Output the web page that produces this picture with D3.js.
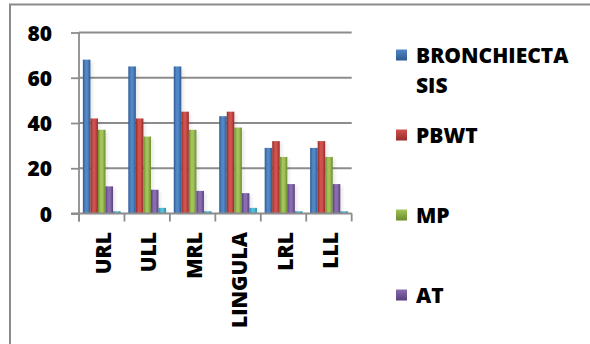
<!DOCTYPE html>
<html>
<head>
<meta charset="utf-8">
<script src="https://cdn.jsdelivr.net/npm/d3@7/dist/d3.min.js"></script>
<style>
  html, body { margin: 0; padding: 0; background: #fff; }
  svg { display: block; }
  text { font-family: "Open Sans", "DejaVu Sans", sans-serif; font-weight: 800; fill: #000; }
</style>
</head>
<body>
<svg id="chart" width="590" height="344"></svg>
<script>
// Lung lobes on the x axis
const categories = ["URL", "ULL", "MRL", "LINGULA", "LRL", "LLL"];

// Findings per lobe
const bronchiectasis = [68, 65, 65, 43, 29, 29];
const pbwt           = [42, 42, 45, 45, 32, 32];
const mp             = [37, 34, 37, 38, 25, 25];
const at             = [12, 10.5, 10, 9, 13, 13];
const fifthSeries    = [1, 2.5, 1, 2.5, 1, 1];

const yTicks = [0, 20, 40, 60, 80];

const seriesNames = ["BRONCHIECTASIS", "PBWT", "MP", "AT", "OTHER"];
const seriesValues = [bronchiectasis, pbwt, mp, at, fifthSeries];
const legendLines = [["BRONCHIECTA", "SIS"], ["PBWT"], ["MP"], ["AT"]];

// base colours: [dark edge, light centre]
const palette = [
  ["#2c5a92", "#5287c6"],
  ["#962b28", "#d0524e"],
  ["#6b8a2c", "#a3c45a"],
  ["#573f7c", "#8a6db0"],
  ["#2889a6", "#55c0dc"]
];

const FONT = 21;

const svg = d3.select("#chart");
const defs = svg.append("defs");

palette.forEach((c, i) => {
  const g = defs.append("linearGradient")
    .attr("id", "bar" + i).attr("x1", 0).attr("x2", 1).attr("y1", 0).attr("y2", 0);
  g.append("stop").attr("offset", "0%").attr("stop-color", c[0]);
  g.append("stop").attr("offset", "35%").attr("stop-color", c[1]);
  g.append("stop").attr("offset", "60%").attr("stop-color", c[1]);
  g.append("stop").attr("offset", "100%").attr("stop-color", c[0]);

  const m = defs.append("linearGradient")
    .attr("id", "mark" + i).attr("x1", 0).attr("x2", 0).attr("y1", 0).attr("y2", 1);
  m.append("stop").attr("offset", "0%").attr("stop-color", c[1]);
  m.append("stop").attr("offset", "100%").attr("stop-color", c[0]);
});

defs.append("filter").attr("id", "soft")
  .attr("x", "-50%").attr("y", "-10%").attr("width", "200%").attr("height", "120%")
  .append("feGaussianBlur").attr("stdDeviation", 1.5);

// outer frame (left and top edges)
svg.append("path")
  .attr("d", "M10,344 V4.5 H590")
  .attr("fill", "none").attr("stroke", "#8a8a8a").attr("stroke-width", 2);

const x0 = d3.scaleBand().domain(categories).range([79, 351.7]).paddingInner(0.17).paddingOuter(0.085);
const x1 = d3.scaleBand().domain(d3.range(seriesNames.length)).range([0, x0.bandwidth()]);
const y = d3.scaleLinear().domain([0, 80]).range([213.5, 32.5]);

const gridColor = "#8c8c8c";

// gridlines
svg.append("g").selectAll("line").data(yTicks.filter(t => t > 0)).join("line")
  .attr("x1", 79).attr("x2", 351.7)
  .attr("y1", d => y(d)).attr("y2", d => y(d))
  .attr("stroke", gridColor).attr("stroke-width", 1.8);

// y axis
const yAxis = svg.append("g").attr("transform", "translate(79,0)")
  .call(d3.axisLeft(y).tickValues(yTicks).tickSize(8).tickPadding(19));
yAxis.attr("font-family", null).attr("font-size", null);
yAxis.select(".domain").attr("stroke", gridColor).attr("stroke-width", 1.8)
  .attr("d", `M0,${y(80)}V${y(0) + 8}`);
yAxis.selectAll(".tick line").attr("stroke", gridColor).attr("stroke-width", 1.8);
yAxis.selectAll(".tick text").attr("font-size", FONT)
  .attr("fill", "#000").attr("dy", "0.36em");

// bars
const groups = svg.append("g").selectAll("g").data(categories).join("g")
  .attr("transform", d => `translate(${x0(d)},0)`);

groups.each(function (cat, ci) {
  const g = d3.select(this);
  const rows = seriesValues.map((vals, si) => ({ si, v: vals[ci] }));
  g.selectAll("rect.shadow").data(rows).join("rect").attr("class", "shadow")
    .attr("x", d => x1(d.si) + 2.5).attr("width", x1.bandwidth())
    .attr("y", d => y(d.v) + 2).attr("height", d => y(0) - y(d.v) - 2)
    .attr("fill", "#000").attr("opacity", 0.08).attr("filter", "url(#soft)");
  g.selectAll("rect.bar").data(rows).join("rect").attr("class", "bar")
    .attr("x", d => x1(d.si)).attr("width", x1.bandwidth())
    .attr("y", d => y(d.v)).attr("height", d => y(0) - y(d.v))
    .attr("fill", d => `url(#bar${d.si})`);
});

// x axis
const xAxis = svg.append("g").attr("transform", `translate(0,${y(0)})`)
  .call(d3.axisBottom(x0).tickSize(0).tickFormat(""));
xAxis.select(".domain").attr("stroke", gridColor).attr("stroke-width", 1.8)
  .attr("d", "M71,0H351.7");
const edges = x0.domain().map(d => x0(d) - x0.step() * x0.paddingInner() / 2).concat([351.7]);
xAxis.selectAll("line.edge").data(edges).join("line").attr("class", "edge")
  .attr("x1", d => d).attr("x2", d => d).attr("y1", 0).attr("y2", 8)
  .attr("stroke", gridColor).attr("stroke-width", 1.8);

// rotated category labels
svg.append("g").selectAll("text").data(categories).join("text")
  .attr("transform", d => `translate(${x0(d) + x0.bandwidth() / 2 + 9},232) rotate(-90)`)
  .attr("text-anchor", "end").attr("font-size", FONT)
  .text(d => d);

// legend
const legendRowY = [55, 135, 215, 295];
const legend = svg.append("g").selectAll("g").data(legendLines).join("g")
  .attr("transform", (d, i) => `translate(0,${legendRowY[i]})`);
legend.append("rect")
  .attr("x", 396).attr("y", -5.5).attr("width", 11).attr("height", 11)
  .attr("fill", (d, i) => `url(#mark${i})`);
legend.append("text")
  .attr("x", 416).attr("y", 8).attr("font-size", FONT)
  .selectAll("tspan").data(d => d).join("tspan")
  .attr("x", 416).attr("dy", (d, i) => i === 0 ? 0 : 30)
  .text(d => d);
</script>
</body>
</html>
